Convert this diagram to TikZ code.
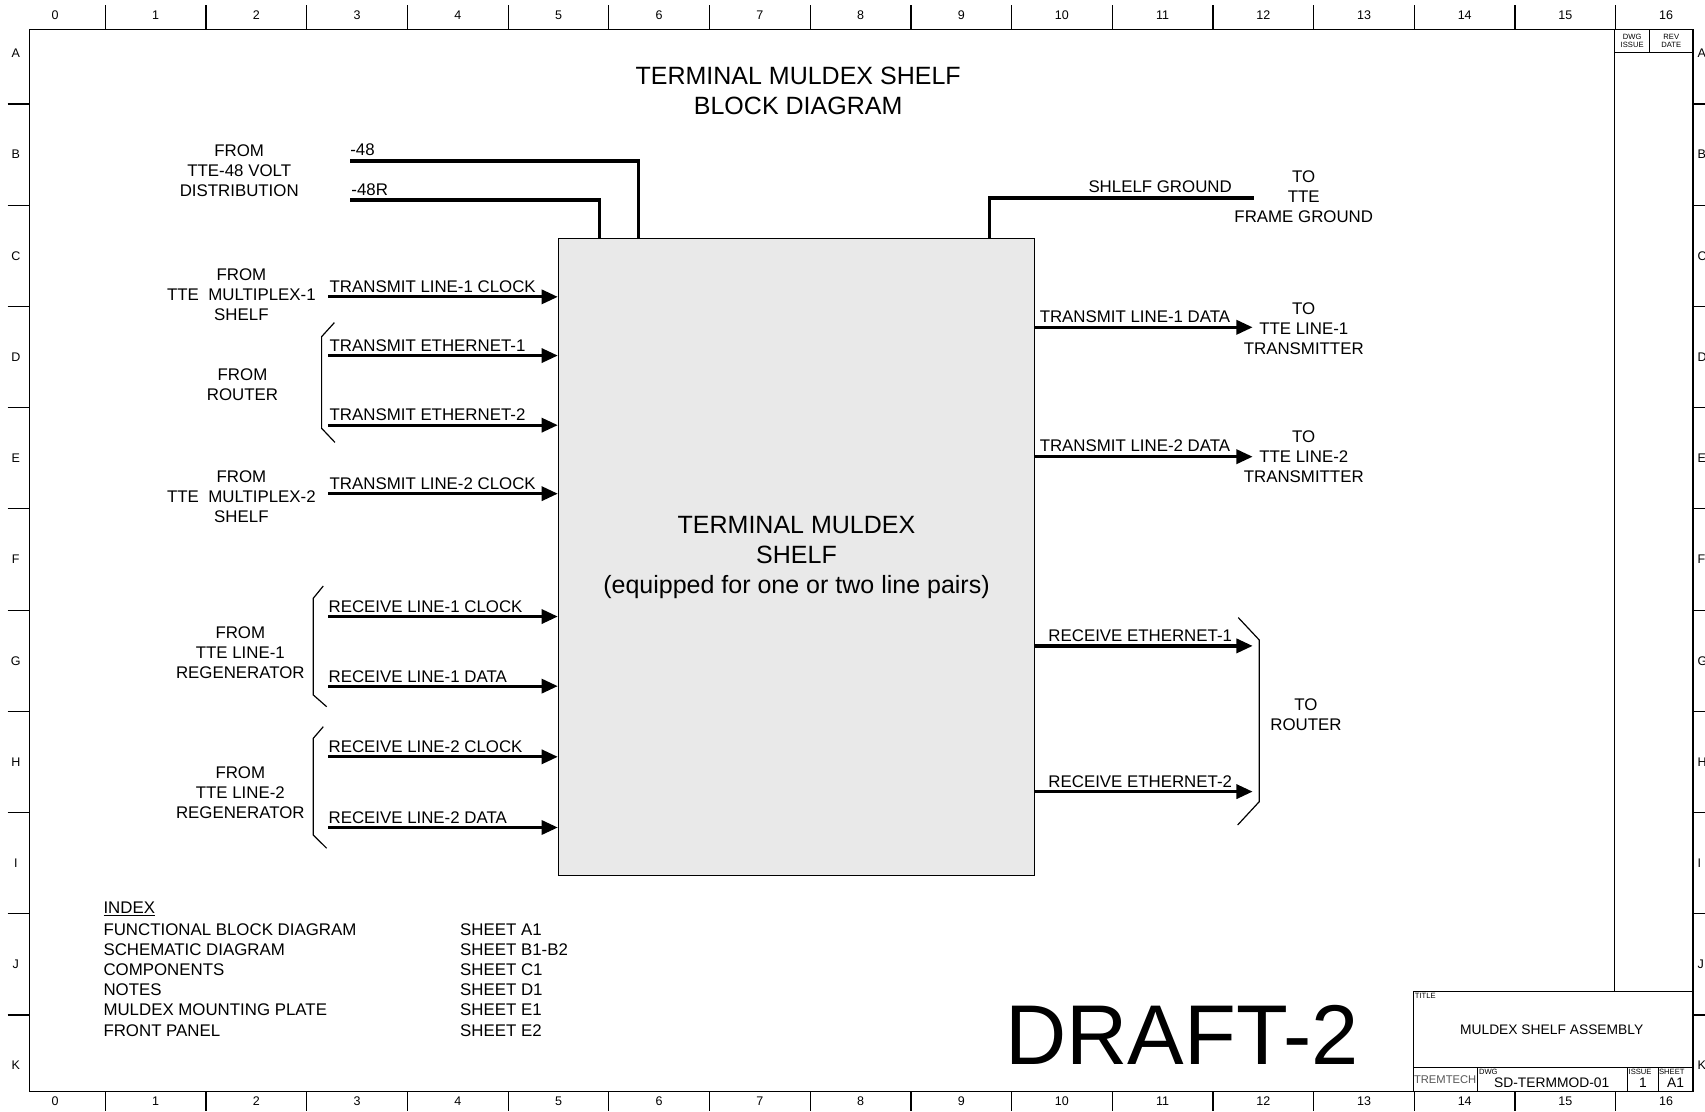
\documentclass[tikz,border=0pt]{standalone}
\usepackage{fontspec}
\setmainfont{Liberation Sans}
\usetikzlibrary{arrows.meta}
\definecolor{blockgray}{RGB}{233,233,233}
\definecolor{tremgray}{RGB}{85,85,85}
\begin{document}
\begin{tikzpicture}[x=1pt,y=-1pt,
  frame/.style={line width=1.1pt},
  wire/.style={line width=3pt},
  sig/.style={line width=3pt,-{Triangle[length=15pt,width=13pt]}},
  brk/.style={line width=1.1pt},
  lbl/.style={font=\fontsize{15.5}{18.5}\selectfont, inner sep=0pt},
  grp/.style={font=\fontsize{15.5}{18.5}\selectfont, inner sep=0pt, align=center},
  big/.style={font=\fontsize{23}{27.5}\selectfont, inner sep=0pt, align=center},
  ruler/.style={font=\fontsize{11.5}{13}\selectfont, inner sep=0pt},
  tiny/.style={font=\fontsize{7}{7.5}\selectfont, inner sep=0pt, align=center},
  tb/.style={font=\fontsize{12.7}{14}\selectfont, inner sep=0pt}
]
\useasboundingbox (0,0) rectangle (1568,1022);

% ---------- drawing frame and rulers ----------
\draw[frame] (27,27) rectangle (1557,1004);
\foreach \i in {1,...,16} {
  \draw[frame] ({4.3+92.6*\i},5) -- ({4.3+92.6*\i},27);
  \draw[frame] ({4.3+92.6*\i},1004) -- ({4.3+92.6*\i},1022);
}
\foreach \i in {0,...,16} {
  \node[ruler] (ct\i) at ({4.3+92.6*(\i+0.5)},14) {\i};
  \node[ruler] (cb\i) at ({4.3+92.6*(\i+0.5)},1013) {\i};
}
\foreach \k in {1,...,10} {
  \draw[frame] (7,{2.5+93.1*\k}) -- (27,{2.5+93.1*\k});
  \draw[frame] (1557,{2.5+93.1*\k}) -- (1568,{2.5+93.1*\k});
}
\foreach \L [count=\j from 0] in {A,B,C,D,E,F,G,H,I,J,K} {
  \node[ruler] (rl\L) at (14.5,{2.5+93.1*(\j+0.5)}) {\L};
  \node[ruler, anchor=west] (rr\L) at (1561,{2.5+93.1*(\j+0.5)}) {\L};
}

% ---------- revision column ----------
\draw[frame] (1485,27) -- (1485,912);
\draw[frame] (1485,48) -- (1557,48);
\draw[frame] (1517,27) -- (1517,48);
\node[tiny] (dwgiss) at (1501,37.5) {DWG\\ISSUE};
\node[tiny] (revdate) at (1537,37.5) {REV\\DATE};

% ---------- title block ----------
\draw[frame] (1300,912) rectangle (1557,1004);
\draw[frame] (1300,982) -- (1557,982);
\draw[frame] (1359,982) -- (1359,1004);
\draw[frame] (1497,982) -- (1497,1004);
\draw[frame] (1525,982) -- (1525,1004);
\node[tiny, anchor=north west] (ttl) at (1301,913.5) {TITLE};
\node[tb] (tname) at (1427,947) {MULDEX SHELF ASSEMBLY};
\node[font=\fontsize{10.3}{12}\selectfont, inner sep=0pt, text=tremgray] (trem) at (1329,993) {TREMTECH};
\node[tiny, anchor=north west] (dwgl) at (1360,983) {DWG};
\node[tb] (dwgno) at (1427,996) {SD-TERMMOD-01};
\node[tiny, anchor=north west] (issl) at (1497.6,983) {ISSUE};
\node[tb] (issno) at (1511,996) {1};
\node[tiny, anchor=north west] (shl) at (1525.6,983) {SHEET};
\node[tb] (shno) at (1541,996) {A1};

% ---------- heading ----------
\node[big] (title) at (734,83.5) {TERMINAL MULDEX SHELF\\BLOCK DIAGRAM};

% ---------- main block ----------
\node[draw, line width=1pt, fill=blockgray, minimum width=438pt, minimum height=586pt,
      inner sep=0pt, anchor=north west, big] (blk) at (513,219)
  {TERMINAL MULDEX\\SHELF\\(equipped for one or two line pairs)};

% ---------- power and ground ----------
\node[grp] (src48) at (220,157) {FROM\\TTE-48 VOLT\\DISTRIBUTION};
\coordinate (p48) at (322,148);
\coordinate (p48r) at (322,184);
\node[lbl, anchor=west] (l48) at (322,138) {-48};
\node[lbl, anchor=west] (l48r) at (323,174) {-48R};
\draw[wire] (p48) -| ([xshift=74pt]blk.north west);
\draw[wire] (p48r) -| ([xshift=38pt]blk.north west);

\coordinate (gnd) at (1153,182);
\draw[wire] ([xshift=397pt]blk.north west) |- (gnd);
\node[lbl, anchor=east] (lgnd) at (1133,172) {SHLELF GROUND};
\node[grp] (dgnd) at (1199,181) {TO\\TTE\\FRAME GROUND};

% ---------- left inputs ----------
\node[grp] (sm1) at (222,271) {FROM\\TTE\ \ MULTIPLEX-1\\SHELF};
\node[grp] (srt) at (223,354) {FROM\\ROUTER};
\node[grp] (sm2) at (222,457) {FROM\\TTE\ \ MULTIPLEX-2\\SHELF};
\node[grp] (sr1) at (221,600) {FROM\\TTE LINE-1\\REGENERATOR};
\node[grp] (sr2) at (221,729) {FROM\\TTE LINE-2\\REGENERATOR};

\coordinate (a1) at (302,273);
\coordinate (a2) at (302,327);
\coordinate (a3) at (302,391);
\coordinate (a4) at (302,454);
\coordinate (a5) at (302,567);
\coordinate (a6) at (302,631);
\coordinate (a7) at (302,696);
\coordinate (a8) at (302,761);
\foreach \n in {a1,a2,a3,a4,a5,a6,a7,a8}
  \draw[sig] (\n) -- (\n -| blk.west);

\node[lbl, anchor=west] (la1) at (303,264) {TRANSMIT LINE-1 CLOCK};
\node[lbl, anchor=west] (la2) at (303,317.5) {TRANSMIT ETHERNET-1};
\node[lbl, anchor=west] (la3) at (303,381.5) {TRANSMIT ETHERNET-2};
\node[lbl, anchor=west] (la4) at (303,444.5) {TRANSMIT LINE-2 CLOCK};
\node[lbl, anchor=west] (la5) at (302,557.5) {RECEIVE LINE-1 CLOCK};
\node[lbl, anchor=west] (la6) at (302,622) {RECEIVE LINE-1 DATA};
\node[lbl, anchor=west] (la7) at (302,686.5) {RECEIVE LINE-2 CLOCK};
\node[lbl, anchor=west] (la8) at (302,752) {RECEIVE LINE-2 DATA};

% brackets
\draw[brk] (307.5,296.7) -- (295.8,309.6) -- (295.8,393.9) -- (308,406.8);
\draw[brk] (297.3,538.9) -- (288.1,550.2) -- (288.1,639.1) -- (300.4,649.9);
\draw[brk] (297.3,668.3) -- (288.1,679) -- (288.1,767.9) -- (300.4,780.1);

% ---------- right outputs ----------
\coordinate (b1) at (1152,301);
\coordinate (b2) at (1152,420);
\coordinate (b3) at (1152,594);
\coordinate (b4) at (1152,728);
\foreach \n in {b1,b2,b3,b4}
  \draw[sig] (blk.east |- \n) -- (\n);

\node[lbl, anchor=west] (lb1) at (956,291.5) {TRANSMIT LINE-1 DATA};
\node[lbl, anchor=west] (lb2) at (956,409.5) {TRANSMIT LINE-2 DATA};
\node[lbl, anchor=west] (lb3) at (964,585) {RECEIVE ETHERNET-1};
\node[lbl, anchor=west] (lb4) at (964,719) {RECEIVE ETHERNET-2};

\node[grp] (dt1) at (1199,302) {TO\\TTE LINE-1\\TRANSMITTER};
\node[grp] (dt2) at (1199,420) {TO\\TTE LINE-2\\TRANSMITTER};
\node[grp] (drt) at (1201,657.5) {TO\\ROUTER};
\draw[brk] (1138.8,568) -- (1158.1,588.6) -- (1158.1,737.2) -- (1138.2,758.7);

% ---------- index ----------
\node[lbl, anchor=west] (ix0) at (95,836) {\underline{INDEX}};
\node[lbl, anchor=west] (ix1) at (95,855) {FUNCTIONAL BLOCK DIAGRAM};
\node[lbl, anchor=west] (ix2) at (95,873.5) {SCHEMATIC DIAGRAM};
\node[lbl, anchor=west] (ix3) at (95,892) {COMPONENTS};
\node[lbl, anchor=west] (ix4) at (95,910.5) {NOTES};
\node[lbl, anchor=west] (ix5) at (95,929) {MULDEX MOUNTING PLATE};
\node[lbl, anchor=west] (ix6) at (95,948) {FRONT PANEL};
\node[lbl, anchor=west] (sx1) at (423,855) {SHEET A1};
\node[lbl, anchor=west] (sx2) at (423,873.5) {SHEET B1-B2};
\node[lbl, anchor=west] (sx3) at (423,892) {SHEET C1};
\node[lbl, anchor=west] (sx4) at (423,910.5) {SHEET D1};
\node[lbl, anchor=west] (sx5) at (423,929) {SHEET E1};
\node[lbl, anchor=west] (sx6) at (423,948) {SHEET E2};

% ---------- draft stamp ----------
\node[font=\fontsize{78}{78}\selectfont, inner sep=0pt] (draft) at (1087,952) {DRAFT-2};
\end{tikzpicture}
\end{document}
